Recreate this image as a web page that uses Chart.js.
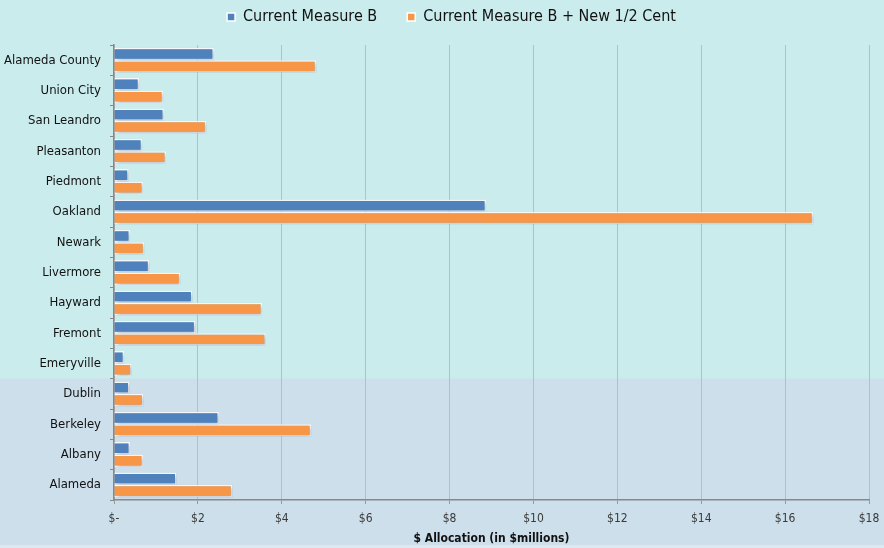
<!DOCTYPE html>
<html>
<head>
<meta charset="utf-8">
<script src="https://cdn.jsdelivr.net/npm/chart.js@4.4.1/dist/chart.umd.min.js"></script>
<style>
  html, body { margin: 0; padding: 0; background: #cbeced; }
  #wrap { width: 884px; height: 548px; position: relative; }
</style>
</head>
<body>
<div id="wrap"><canvas id="chart"></canvas></div>
<script>
// datos (millones de $)
const cities = ["Alameda County", "Union City", "San Leandro", "Pleasanton", "Piedmont",
  "Oakland", "Newark", "Livermore", "Hayward", "Fremont", "Emeryville", "Dublin",
  "Berkeley", "Albany", "Alameda"];
const measureB = [2.38, 0.60, 1.19, 0.67, 0.35, 8.87, 0.38, 0.84, 1.87, 1.94, 0.24, 0.37, 2.50, 0.38, 1.49];
const measureBHalfCent = [4.82, 1.17, 2.20, 1.24, 0.69, 16.67, 0.72, 1.58, 3.53, 3.62, 0.42, 0.70, 4.70, 0.69, 2.82];
const seriesNames = ["Current Measure B", "Current Measure B + New 1/2 Cent"];
const xTickMax = 18;
const xTickStep = 2;
const axisTitle = "$ Allocation (in $millions)";

const FONT = "'DejaVu Sans Condensed', 'Liberation Sans Narrow', sans-serif";

// fondo en dos bandas
const bgPlugin = {
  id: "bands",
  beforeDraw(chart) {
    const c = chart.ctx;
    const y = chart.scales.y;
    const cut = (y.getPixelForValue(10) + y.getPixelForValue(11)) / 2;
    c.save();
    c.fillStyle = "#cbeced";
    c.fillRect(0, 0, chart.width, chart.height);
    c.fillStyle = "#cddfeb";
    c.fillRect(0, cut, chart.width, chart.height - cut);
    c.fillStyle = "#dde8ef";
    c.fillRect(0, chart.height - 3, chart.width, 3);
    c.restore();
  }
};

// la leyenda ocupa un alto fijo (separacion entre items mas ancha)
const legendHeight = {
  id: "legendHeight",
  afterInit(chart) {
    const lg = chart.legend;
    const origFit = lg.fit;
    lg.fit = function () {
      origFit.call(this);
      this.height = 67;
    };
    const origDraw = lg.draw;
    lg.draw = function () {
      const c = this.ctx;
      c.save();
      c.translate(17, 1);
      origDraw.call(this);
      c.restore();
    };
  }
};

// sombra de las barras
const shadowPlugin = {
  id: "barShadow",
  beforeDatasetsDraw(chart) {
    const c = chart.ctx;
    c.save();
    c.shadowColor = "rgba(40, 70, 110, 0.35)";
    c.shadowBlur = 5;
    c.shadowOffsetX = 2;
    c.shadowOffsetY = 2;
  },
  afterDatasetsDraw(chart) {
    chart.ctx.restore();
  }
};

const ctx = document.getElementById("chart").getContext("2d");
const chart = new Chart(ctx, {
  type: "bar",
  plugins: [bgPlugin, legendHeight, shadowPlugin],
  data: {
    labels: cities,
    datasets: [
      {
        label: seriesNames[0],
        data: measureB,
        backgroundColor: "#4f81bd",
        borderColor: "#ffffff",
        borderWidth: 1.5,
        categoryPercentage: 0.82,
        barPercentage: 1.0
      },
      {
        label: seriesNames[1],
        data: measureBHalfCent,
        backgroundColor: "#f79646",
        borderColor: "#ffffff",
        borderWidth: 1.5,
        categoryPercentage: 0.82,
        barPercentage: 1.0
      }
    ]
  },
  options: {
    indexAxis: "y",
    responsive: true,
    maintainAspectRatio: false,
    animation: false,
    layout: { padding: { top: -22, right: 15, bottom: 0, left: 0 } },
    plugins: {
      tooltip: { enabled: false },
      legend: {
        position: "top",
        labels: {
          usePointStyle: true,
          pointStyle: "rect",
          boxWidth: 8,
          boxHeight: 8,
          padding: 30,
          color: "#111",
          font: { family: FONT, size: 16 }
        }
      }
    },
    scales: {
      x: {
        min: 0,
        max: xTickMax,
        ticks: {
          stepSize: xTickStep,
          color: "#3a3a3a",
          font: { family: FONT, size: 12 },
          padding: 8,
          callback: v => v === 0 ? "$-" : "$" + v
        },
        grid: { color: "#bdbdbd", lineWidth: 1, tickLength: 4, tickColor: "#999" },
        border: { color: "#888", width: 1.5 },
        title: {
          display: true,
          text: axisTitle,
          color: "#111",
          font: { family: FONT, size: 12, weight: "bold" },
          padding: { top: 0, bottom: 2 }
        },
        afterFit(scale) {
          scale.height = 48;
          scale.paddingLeft = 0;
          scale.paddingRight = 0;
        }
      },
      y: {
        ticks: {
          color: "#111",
          font: { family: FONT, size: 13 },
          padding: 9
        },
        grid: { drawOnChartArea: false, offset: true, tickLength: 4, color: "#888" },
        border: { color: "#888", width: 1.5 },
        afterFit(scale) { scale.width = 114; }
      }
    }
  }
});
</script>
</body>
</html>
